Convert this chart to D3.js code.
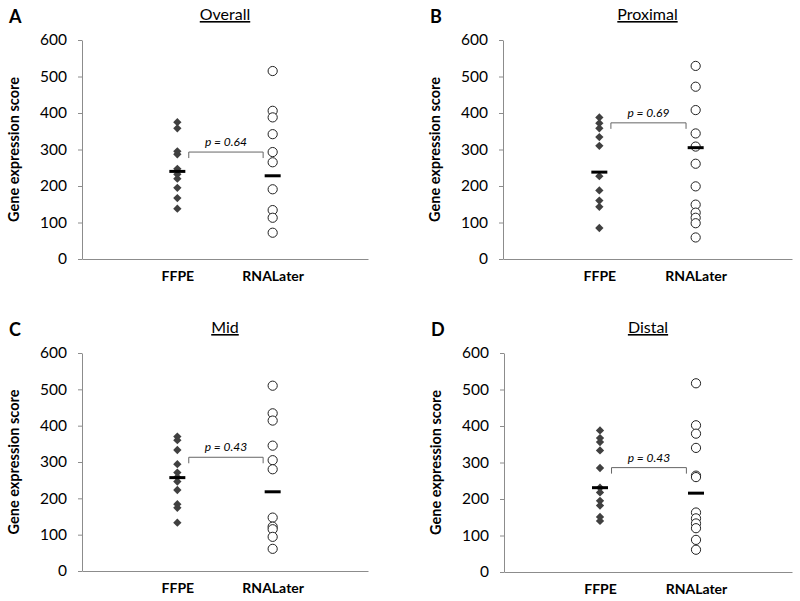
<!DOCTYPE html>
<html><head><meta charset="utf-8">
<script src="https://cdn.jsdelivr.net/npm/d3@7"></script>
<style>
html,body{margin:0;padding:0;background:#fff;}
svg{display:block;font-family:Lato,"Open Sans",sans-serif;}
</style></head>
<body>
<svg id="chart" width="800" height="601"></svg>
<script>
// ---- data ----
const categories = ["FFPE", "RNALater"];
const panelTitles = ["Overall", "Proximal", "Mid", "Distal"];
const panelLetters = ["A", "B", "C", "D"];
const yTicks = [0, 100, 200, 300, 400, 500, 600];

const ffpeOverall  = [375, 358, 295, 287, 247, 232, 220, 195, 167, 138];
const rnaOverall   = [515, 406, 388, 342, 293, 265, 191, 134, 113, 72];
const ffpeProximal = [388, 372, 358, 334, 310, 227, 188, 160, 143, 85];
const rnaProximal  = [529, 472, 408, 344, 308, 261, 199, 149, 127, 113, 98, 59];
const ffpeMid      = [370, 360, 333, 294, 271, 258, 246, 223, 184, 174, 133];
const rnaMid       = [510, 434, 414, 345, 305, 280, 147, 122, 115, 94, 61];
const ffpeDistal   = [388, 367, 356, 333, 285, 231, 218, 195, 182, 151, 140];
const rnaDistal    = [517, 402, 379, 340, 264, 260, 163, 147, 133, 120, 88, 61];

const ffpeMedians = [240, 238, 257, 231];
const rnaMedians  = [228, 305, 218, 216];
const pValues     = ["0.64", "0.69", "0.43", "0.43"];
const bracketLevels = [293, 373, 313, 286];

const ffpeSeries = [ffpeOverall, ffpeProximal, ffpeMid, ffpeDistal];
const rnaSeries  = [rnaOverall, rnaProximal, rnaMid, rnaDistal];

// ---- layout ----
const frames = [
  {x0: 82,  x1: 368, yTop: 40,  yBot: 259},
  {x0: 503, x1: 792, yTop: 40,  yBot: 259},
  {x0: 82,  x1: 368, yTop: 353, yBot: 571},
  {x0: 504, x1: 792, yTop: 353, yBot: 572}
];

const svg = d3.select("#chart");
const axisColor = "#8c8c8c";

frames.forEach((f, i) => {
  const g = svg.append("g");
  const x = d3.scaleLinear().domain([0, 3]).range([f.x0, f.x1]);
  const y = d3.scaleLinear().domain([0, 600]).range([f.yBot, f.yTop]);
  const catPos = d3.scaleOrdinal().domain(categories).range([1, 2]);

  // y axis
  const yAxis = d3.axisLeft(y).tickValues(yTicks).tickSize(4).tickPadding(11).tickSizeOuter(0);
  const ya = g.append("g").attr("transform", `translate(${f.x0},0)`).call(yAxis);
  ya.select(".domain").attr("stroke", axisColor);
  ya.selectAll(".tick line").attr("stroke", axisColor);
  ya.selectAll(".tick text").attr("fill", "#000").attr("font-size", 15.5)
    .attr("font-family", "Lato, 'Open Sans', sans-serif");

  // x axis
  const xAxis = d3.axisBottom(x).tickValues([1, 2]).tickSize(0).tickPadding(12)
    .tickFormat(d => categories[d - 1]);
  const xa = g.append("g").attr("transform", `translate(0,${f.yBot})`).call(xAxis);
  xa.select(".domain").attr("stroke", axisColor);
  xa.selectAll(".tick text").attr("fill", "#000").attr("font-size", 14).attr("font-weight", "bold")
    .attr("font-family", "Lato, 'Open Sans', sans-serif");

  // y title
  g.append("text")
    .attr("transform", `translate(${f.x0 - 63},${(f.yTop + f.yBot) / 2}) rotate(-90)`)
    .attr("text-anchor", "middle").attr("font-size", 14.5).attr("font-weight", "bold")
    .text("Gene expression score");

  // panel title
  g.append("text").attr("x", (f.x0 + f.x1) / 2).attr("y", f.yTop - 20)
    .attr("text-anchor", "middle").attr("font-size", 16)
    .attr("text-decoration", "underline").text(panelTitles[i]);

  // panel letter
  g.append("text").attr("x", f.x0 - 73).attr("y", f.yTop - 17)
    .attr("font-size", 18).attr("font-weight", "bold").text(panelLetters[i]);

  // FFPE diamonds
  const diamond = d3.symbol().type(d3.symbolDiamond2).size(44);
  g.selectAll(".ffpe").data(ffpeSeries[i]).join("path")
    .attr("d", diamond)
    .attr("transform", d => `translate(${x(catPos("FFPE"))},${y(d)})`)
    .attr("fill", "#404040");

  // RNALater circles
  g.selectAll(".rna").data(rnaSeries[i]).join("circle")
    .attr("cx", x(catPos("RNALater"))).attr("cy", d => y(d)).attr("r", 4.6)
    .attr("fill", "#fff").attr("stroke", "#222").attr("stroke-width", 1);

  // median bars
  const meds = [ffpeMedians[i], rnaMedians[i]];
  g.selectAll(".med").data(meds).join("line")
    .attr("x1", (d, j) => x(j + 1) - 8).attr("x2", (d, j) => x(j + 1) + 8)
    .attr("y1", d => y(d)).attr("y2", d => y(d))
    .attr("stroke", "#000").attr("stroke-width", 3);

  // p-value bracket
  const by = y(bracketLevels[i]);
  const bx1 = x(1.12), bx2 = x(1.9);
  g.append("path")
    .attr("d", `M${bx1},${by + 6}V${by}H${bx2}V${by + 6}`)
    .attr("fill", "none").attr("stroke", "#666").attr("stroke-width", 1);
  g.append("text").attr("x", (bx1 + bx2) / 2).attr("y", by - 6)
    .attr("text-anchor", "middle").attr("font-size", 12).attr("font-style", "italic")
    .text(`p = ${pValues[i]}`);
});
</script>
</body></html>
